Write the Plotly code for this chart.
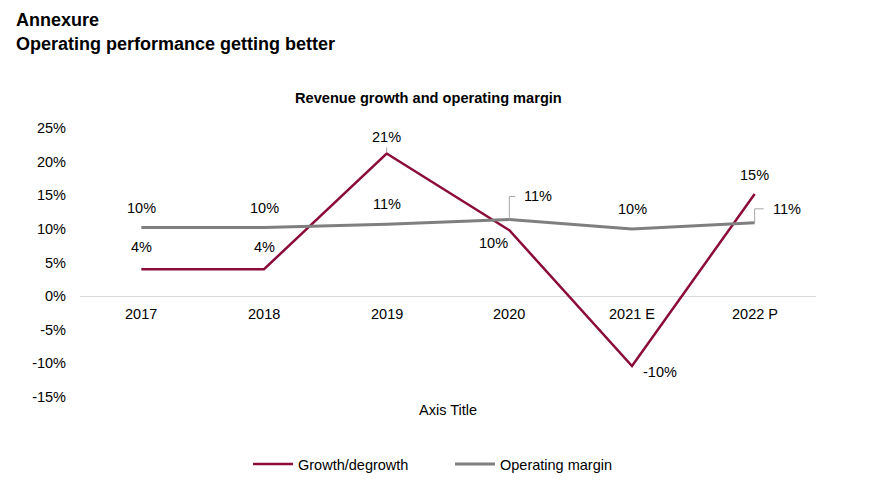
import plotly.graph_objects as go

# ---- data ----
categories = ["2017", "2018", "2019", "2020", "2021 E", "2022 P"]
growth = [4.0, 4.0, 21.2, 9.8, -10.4, 15.2]
margin = [10.2, 10.2, 10.7, 11.4, 10.0, 10.9]
y_ticks = [-15, -10, -5, 0, 5, 10, 15, 20, 25]

# ---- styles / positions ----
FONT = "Liberation Sans, Arial, sans-serif"
C_GROWTH = "#8B0C3A"
C_MARGIN = "#7F7F7F"
C_TEXT = "#000000"
FS = 14.5
# label offsets (px) relative to the point: (xshift, yshift)
growth_off = [(0, 22), (0, 22), (0, 17), (-16, -13), (28, -6), (0, 19)]
margin_off = [(0, 20), (0, 20), (0, 20), (29, 23), (0, 20), (32, 14)]
# leader lines (pixel paths relative to the point)
leaders = [("growth", 2, "M0,1 L0,6"),
           ("margin", 3, "M0,0 L0,23 L6,23"),
           ("margin", 5, "M0,0 L0,14 L9,14")]

# page body has an 8px margin -> work in a frame shifted by 8px
OFF = 8
W, H = 870 - OFF, 487 - OFF
L, R, T, B = 80 - OFF, 54, 128 - OFF, 90


def px_to_paper(px, py):
    px -= OFF
    py -= OFF
    return (px - L) / (W - L - R), (H - B - py) / (H - T - B)


def px_to_container(px, py):
    return (px - OFF) / W, 1 - (py - OFF) / H


x_idx = list(range(len(categories)))

fig = go.Figure()
fig.add_trace(go.Scatter(x=x_idx, y=growth, mode="lines", name="Growth/degrowth",
                         line=dict(color=C_GROWTH, width=2.5), hoverinfo="skip"))
fig.add_trace(go.Scatter(x=x_idx, y=margin, mode="lines", name="Operating margin",
                         line=dict(color=C_MARGIN, width=3), hoverinfo="skip"))

lab_font = dict(size=FS, color=C_TEXT, family=FONT)
ann = []
for i, v in enumerate(growth):
    dx, dy = growth_off[i]
    ann.append(dict(x=i, y=v, xref="x", yref="y", text=f"{round(v):.0f}%", showarrow=False,
                    xshift=dx, yshift=dy, font=lab_font))
for i, v in enumerate(margin):
    dx, dy = margin_off[i]
    ann.append(dict(x=i, y=v, xref="x", yref="y", text=f"{round(v):.0f}%", showarrow=False,
                    xshift=dx, yshift=dy, font=lab_font))
# category labels sitting just under the zero line
for i, c in enumerate(categories):
    ann.append(dict(x=i, y=0, xref="x", yref="y", text=c, showarrow=False, yanchor="middle",
                    yshift=-17.5, font=lab_font))

for text, px, py, size, anchor in [
    ("<b>Annexure</b>", 14, 20, 18, "left"),
    ("<b>Operating performance getting better</b>", 14, 44, 18, "left"),
    ("<b>Revenue growth and operating margin</b>", 428, 98, 14.6, "center"),
]:
    xp, yp = px_to_paper(px, py)
    ann.append(dict(x=xp, y=yp, xref="paper", yref="paper", text=text, showarrow=False,
                    xanchor=anchor, yanchor="middle",
                    font=dict(size=size, color=C_TEXT, family=FONT)))

shapes = []
for series, i, path in leaders:
    yv = growth[i] if series == "growth" else margin[i]
    shapes.append(dict(type="path", xref="x", yref="y", xsizemode="pixel", ysizemode="pixel",
                       xanchor=i, yanchor=yv, path=path,
                       line=dict(color="#A6A6A6", width=1)))

lx, ly = px_to_container(248, 464)

fig.update_layout(
    width=W, height=H,
    margin=dict(l=L, r=R, t=T, b=B, pad=0, autoexpand=False),
    paper_bgcolor="white", plot_bgcolor="white",
    font=dict(family=FONT, size=FS, color=C_TEXT),
    showlegend=True,
    legend=dict(orientation="h", x=lx, y=ly, xref="container", yref="container",
                xanchor="left", yanchor="middle",
                font=dict(size=FS, color=C_TEXT, family=FONT), itemwidth=40,
                entrywidth=147, entrywidthmode="pixels"),
    xaxis=dict(range=[-0.5, 5.5], showgrid=False, zeroline=False, showline=False,
               showticklabels=False, ticks="", automargin=False,
               title=dict(text="Axis Title", standoff=7, font=lab_font)),
    yaxis=dict(range=[-15, 25], tickvals=y_ticks, ticktext=[f"{t}%" for t in y_ticks],
               showgrid=False, zeroline=True, zerolinecolor="#D9D9D9", zerolinewidth=1,
               showline=False, ticks="", ticklabelstandoff=13, tickfont=lab_font,
               automargin=False),
    annotations=ann,
    shapes=shapes,
)

fig.write_html("out.html", config={"displayModeBar": False})
